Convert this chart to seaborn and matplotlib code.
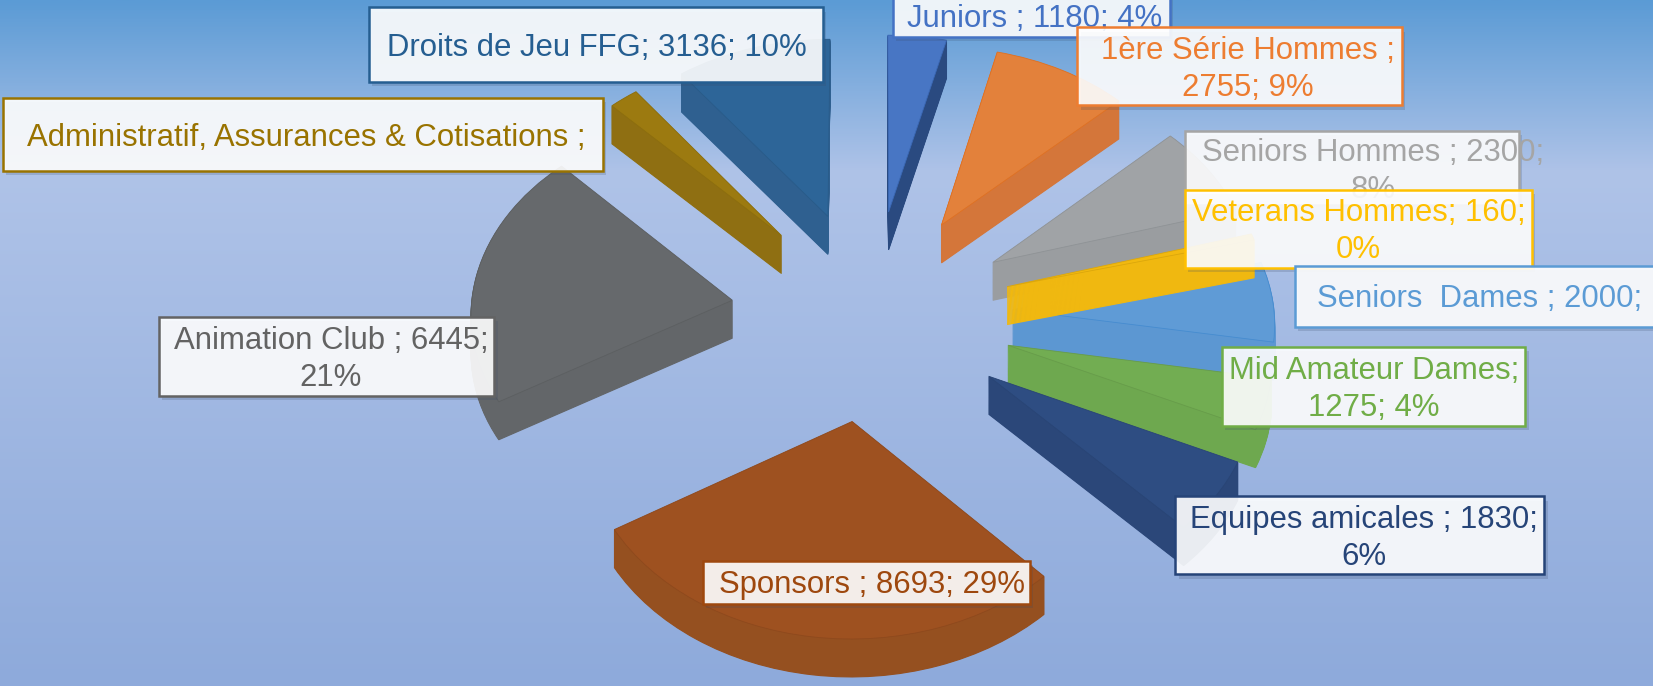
import colorsys
import numpy as np
import matplotlib
matplotlib.use("Agg")
import matplotlib.pyplot as plt
import seaborn as sb
from matplotlib.colors import LinearSegmentedColormap, to_rgb
from matplotlib.patches import Rectangle
from matplotlib.transforms import Transform

categories = ["Juniors", "1ère Série Hommes", "Seniors Hommes", "Veterans Hommes", "Seniors  Dames",
              "Mid Amateur Dames", "Equipes amicales", "Sponsors", "Animation Club",
              "Administratif, Assurances & Cotisations", "Droits de Jeu FFG"]
values = [1180, 2755, 2300, 160, 2000, 1275, 1830, 8693, 6445, 600, 3136]
labels = ["Juniors ; 1180; 4%", "1ère Série Hommes ;\n2755; 9%", "Seniors Hommes ; 2300;\n8%",
          "Veterans Hommes; 160;\n0%", "Seniors  Dames ; 2000;", "Mid Amateur Dames;\n1275; 4%",
          "Equipes amicales ; 1830;\n6%", "Sponsors ; 8693; 29%", "Animation Club ; 6445;\n21%",
          "Administratif, Assurances & Cotisations ;", "Droits de Jeu FFG; 3136; 10%"]
colors = ["#4472c4", "#ed7d31", "#a5a5a5", "#ffc000", "#5b9bd5", "#70ad47",
          "#264478", "#9e480e", "#636363", "#997300", "#255e91"]
# couleurs vues sur le camembert
top_colors = ["#4876c4", "#e3813b", "#a0a3a6", "#f2b90f", "#5f9bd6", "#72ad52",
              "#2e4d82", "#9e5120", "#66696c", "#9c7a10", "#2d6598"]
side_colors = ["#2a4a80", "#d4763a", "#9a9da0", "#f0b810", "#5c97d2", "#6ea84f",
               "#2b4779", "#955020", "#636669", "#8f6f12", "#2f6090"]

# ordre d'empilement des parts et des etiquettes
slice_z = [1, 2, 3, 5, 4, 6, 7, 8, 6, 1, 1]
label_boxes = [(847, -5, 1110, 35), (1022, 26, 1330, 100), (1124, 124, 1441, 195), (1124, 180, 1453, 254),
               (1228, 252, 1575, 310), (1159, 329, 1447, 404), (1115, 471, 1465, 545), (667, 532, 977, 573),
               (151, 301, 469, 376), (3, 93, 572, 162), (350, 7, 781, 78)]
label_dx = [3, 8, 20, 0, 2, 0, 4, 5, 4, 3, 1]
label_z = [1, 2, 1, 2, 3, 1, 1, 1, 1, 1, 2]

W, H = 1568, 651
CX, CY = 827, 298
SX, SY = 248, 185.5
PERSP = 0.05
EXPLODE = 0.54
DEPTH = 0.194


class Perspective(Transform):
    input_dims = 2
    output_dims = 2

    def __init__(self, drop):
        super().__init__()
        self.drop = drop

    def transform_non_affine(self, xy):
        xy = np.asarray(xy, dtype=float)
        k = 1 / (1 + PERSP * xy[:, 1])
        return np.column_stack([xy[:, 0] * k, xy[:, 1] * k - self.drop])


def darker(col, f):
    r, g, b = to_rgb(col)
    return sb.set_hls_values(col, l=f * colorsys.rgb_to_hls(r, g, b)[1])


sb.set_theme(style="white")
plt.rcParams['font.family'] = ['Liberation Sans', 'DejaVu Sans']

fig = plt.figure(figsize=(16.53, 6.86), dpi=100)

# fond en degrade
bg = fig.add_axes([0, 0, 1, 1], zorder=0)
grad = LinearSegmentedColormap.from_list("fond", [(0, "#5b9bd5"), (0.25, "#afc3e8"), (1, "#8eaadb")])
bg.imshow(np.linspace(0, 1, 256).reshape(-1, 1), cmap=grad, aspect="auto")
bg.axis("off")

# camembert eclate, une pile de tranches pour l'epaisseur
ax = fig.add_axes([0, 0, 1, 1], zorder=1)
ax.patch.set_alpha(0)
explode = [EXPLODE] * len(values)
layers = np.linspace(DEPTH, 0, 40)
for n, d in enumerate(layers):
    is_top = n == len(layers) - 1
    wedges, _ = ax.pie(values, explode=explode, startangle=90, counterclock=False,
                       colors=top_colors if is_top else side_colors)
    for i, w in enumerate(wedges):
        w.set_transform(Perspective(d) + ax.transData)
        w.set_zorder(slice_z[i] * 100 + n)
        if is_top:
            w.set_edgecolor(darker(top_colors[i], 0.9))
            w.set_linewidth(0.6)
        else:
            w.set_edgecolor(side_colors[i])
            w.set_linewidth(0.8)
ax.set_aspect("auto")
ax.set_xlim(-CX / SX, (W - CX) / SX)
ax.set_ylim((CY - H) / SY, CY / SY)
ax.axis("off")

# etiquettes
lab = fig.add_axes([0, 0, 1, 1], zorder=2)
lab.patch.set_alpha(0)
lab.set_xlim(0, W)
lab.set_ylim(H, 0)
lab.axis("off")
for text, col, box, dx, z in zip(labels, colors, label_boxes, label_dx, label_z):
    x0, y0, x1, y1 = box
    lab.add_patch(Rectangle((x0 + 3, y0 + 4), x1 - x0, y1 - y0, fc="#3a4a66", ec="none", alpha=0.2, zorder=z * 10))
    lab.add_patch(Rectangle((x0, y0), x1 - x0, y1 - y0, fc=(1, 1, 1, 0.9), ec=col, lw=1.8, zorder=z * 10 + 1))
    lab.text((x0 + x1) / 2 + dx, (y0 + y1) / 2 + 3, text, color=col, fontsize=22.4, ha="center", va="center",
             linespacing=1.3, zorder=z * 10 + 2)

fig.savefig("out.png", dpi=100)
